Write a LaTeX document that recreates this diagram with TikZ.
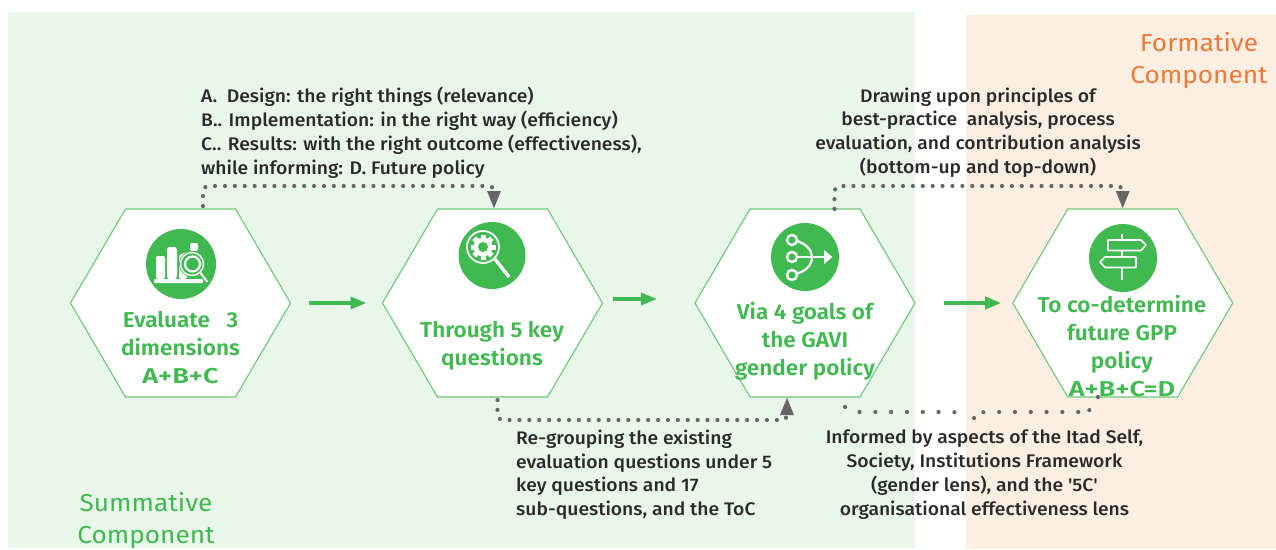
\documentclass[tikz,border=0pt]{standalone}
\usepackage{fontspec}
\setmainfont[FakeStretch=1.07]{Fira Sans}
\newfontfamily\headfont[FakeStretch=1.05]{Fira Sans SemiBold}
\newfontfamily\capsfont[FakeStretch=1.26]{Fira Sans SemiBold}
\newfontfamily\bodyfont[FakeStretch=1.06]{Fira Sans Medium}
\usetikzlibrary{arrows.meta,calc}
\definecolor{bggreen}{HTML}{E8F7EA}
\definecolor{bgorange}{HTML}{FDEEE2}
\definecolor{hexgreen}{HTML}{6CC777}
\definecolor{maingreen}{HTML}{3FB950}
\definecolor{mainorange}{HTML}{EC7A3A}
\definecolor{dotgray}{HTML}{666666}
\definecolor{bodytext}{HTML}{2A2A2A}
\tikzset{
  hexnode/.style={rectangle,minimum width=220pt,minimum height=188pt,inner sep=0pt,outer sep=0pt},
  hexline/.style={draw=hexgreen,fill=white,line width=1.1pt,line join=miter},
  hexlabel/.style={text=maingreen,align=center,inner sep=0pt,font=\headfont\fontsize{21.5}{28}\selectfont},
  bodyleft/.style={text=bodytext,align=left,inner sep=0pt,font=\bodyfont\fontsize{18.2}{23.8}\selectfont},
  bodycenter/.style={text=bodytext,align=center,inner sep=0pt,font=\bodyfont\fontsize{18.2}{23.8}\selectfont},
  comp/.style={align=center,inner sep=0pt,font=\fontsize{24.5}{31.5}\selectfont},
  flow/.style={draw=maingreen,line width=3.6pt,-{Triangle[length=16pt,width=12pt]}},
  dotlink/.style={draw=dotgray,line width=4.2pt,line cap=round,dash pattern=on 0pt off 9.9pt,rounded corners=5pt},
  dottip/.style={-{Triangle[length=18pt,width=12.5pt,fill=dotgray]}},
  sparse/.style={draw=dotgray,line width=4.2pt,line cap=round,dash pattern=on 0pt off 15.8pt,rounded corners=5pt},
  disc/.style={circle,fill=maingreen,inner sep=0pt,outer sep=0pt},
  ico/.style={draw=white,line width=1.6pt,fill=none},
}
\begin{document}
\begin{tikzpicture}[x=1pt,y=-1pt]
\useasboundingbox (0,0) rectangle (1276,549);
\fill[bgorange] (966,15) rectangle (1276,549);
\fill[bggreen] (8,12) rectangle (915,548);

% hexagons
\node[hexnode] (h1) at (180.5,303) {};
\node[hexnode] (h2) at (492.5,303) {};
\node[hexnode] (h3) at (805,303) {};
\node[hexnode] (h4) at (1122.7,303) {};
\foreach \h in {h1,h2,h3,h4}
  \draw[hexline] (\h.west) -- ([xshift=55pt]\h.north west) -- ([xshift=-55pt]\h.north east)
     -- (\h.east) -- ([xshift=-55pt]\h.south east) -- ([xshift=55pt]\h.south west) -- cycle;

% flow arrows
\draw[flow,shorten <=18pt,shorten >=16pt] (h1.east) -- (h2.west);
\draw[flow,shorten <=10pt,shorten >=38pt] ([yshift=4pt]h2.east) -- ([yshift=4pt]h3.west);
\draw[flow,shorten <=28.5pt,shorten >=11.5pt] (h3.east) -- (h4.west);

% dotted connectors
\coordinate (t1) at ([xshift=1.5pt]h2.north);
\coordinate (s1) at ([xshift=22.5pt,yshift=3pt]h1.north);
\draw[dotlink,dottip] (s1) -- (s1 |- 0,186) -- (t1 |- 0,186) -- (t1);
\coordinate (s2) at ([xshift=5pt]h2.south);
\coordinate (t2) at ([xshift=-18pt]h3.south);
\draw[dotlink,dottip] ([yshift=-3pt]s2) -- (s2 |- 0,420) -- (t2 |- 0,420) -- (t2);
\coordinate (s3) at ([xshift=29.5pt]h3.north);
\coordinate (t3) at (h4.north);
\draw[dotlink,dottip] (s3) -- (s3 |- 0,186) -- (t3 |- 0,186) -- (t3);
\coordinate (s4) at ([xshift=40pt,yshift=-10pt]h3.south);
\coordinate (s5) at ([xshift=-24.7pt]h4.south);
\coordinate (m4) at (969,428);
\draw[sparse] (s4) -- ++(7,5) -- (957,412) -- (964,417);
\draw[sparse] (s5) -- (1093,407) -- (1087,412) -- (980,412) -- (974,417) -- (m4);

% icons
\node[disc,minimum size=70pt] (c1) at (181,264) {};
\node[disc,minimum size=67pt] (c2) at (492,255.5) {};
\node[disc,minimum size=68pt] (c3) at (805,257) {};
\node[disc,minimum size=68pt] (c4) at (1123,258) {};

% icon 1: bars and magnifier
\fill[white,rounded corners=2pt] (156,279) rectangle (165,256);
\fill[white,rounded corners=2.5pt] (167,279) rectangle (177,247);
\fill[white,rounded corners=1.5pt] (179,279) -- (179,255) -- (187,252) -- (187,279) -- cycle;
\fill[white,rounded corners=2pt] (190,251) rectangle (198,243);
\fill[white,rounded corners=1pt] (154,279) rectangle (203,283);
\fill[maingreen] (192,264) circle (13);
\draw[ico,line width=1.4pt] (192,264) circle (11.5);
\draw[ico,line width=2.2pt] (192.5,264) circle (7.5);
\draw[ico,line width=2pt] (200.5,273) -- (207.5,282);

% icon 2: gear and magnifier
\draw[ico,line width=1.8pt] (483,247) circle (16);
\fill[white] (483,247) circle (9.5);
\foreach \a in {0,45,...,315}
  \fill[white,rotate around={\a:(483,247)}] (480.5,234.5) rectangle (485.5,240);
\fill[maingreen] (483,247) circle (5);
\draw[ico,line width=3.4pt] (495,259) -- (509,277);

% icon 3: merge arrow
\draw[ico,line width=2.4pt] (792,240) circle (5);
\draw[ico,line width=2.4pt] (792,257) circle (5);
\draw[ico,line width=2.4pt] (792,275) circle (5);
\draw[ico,line width=2.4pt] (797,257) -- (825,257);
\fill[white] (824,250) -- (832.5,257) -- (824,264) -- cycle;
\draw[ico,line width=2.2pt] (797,241) .. controls (806,244) and (812,250) .. (812,257)
   .. controls (812,265) and (806,271) .. (797,273.5);

% icon 4: signpost
\fill[white] (1120.8,234) rectangle (1123.4,280);
\draw[ico,fill=maingreen,line width=1.7pt,line join=round] (1108,240) -- (1141,240) -- (1146,245) -- (1141,250.5) -- (1108,250.5) -- cycle;
\draw[ico,fill=maingreen,line width=1.7pt,line join=round] (1136,257) -- (1105,257) -- (1100,262) -- (1105,267.5) -- (1136,267.5) -- cycle;

% hexagon labels
\node[hexlabel] (l1) at (180.5,347.5) {Evaluate\ \ \ 3\\dimensions\\{\capsfont A+B+C}};
\node[hexlabel] (l2) at (492,345.5) {Through 5 key\\questions};
\node[hexlabel] (l3) at (805,341.5) {Via 4 goals of\\the GAVI\\gender policy};
\node[hexlabel] (l4) at (1122,346) {To co-determine\\future GPP\\policy\\{\capsfont A+B+C=D}};

% texts
\node[bodyleft,anchor=north west] (b1) at (201,87) {A.\ \ Design: the right things (relevance)\\B.. Implementation: in the right way (efficiency)\\C.. Results: with the right outcome (effectiveness),\\while informing: D. Future policy};
\node[bodycenter] (b2) at (978,132.5) {Drawing upon principles of\\best-practice\ \ analysis, process\\evaluation, and contribution analysis\\(bottom-up and top-down)};
\node[bodyleft,anchor=north west] (b3) at (516,429.5) {Re-grouping the existing\\evaluation questions under 5\\key questions and 17\\sub-questions, and the ToC};
\node[bodycenter] (b4) at (984.5,474.5) {Informed by aspects of the Itad Self,\\Society, Institutions Framework\\(gender lens), and the '5C'\\organisational effectiveness lens};
\node[comp,text=mainorange] (f) at (1199,60.5) {Formative\\Component};
\node[comp,text=maingreen] (s) at (146,520.5) {Summative\\Component};
\end{tikzpicture}
\end{document}
